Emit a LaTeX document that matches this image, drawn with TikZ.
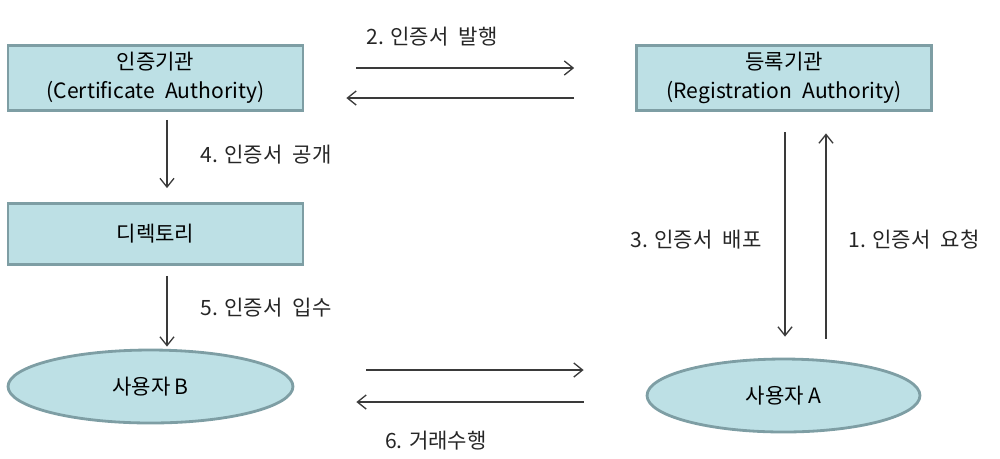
\documentclass[tikz,border=0pt]{standalone}
\usepackage{fontspec}
\setmainfont{Noto Sans CJK KR}[WordSpace=2.2]
\usetikzlibrary{positioning, arrows.meta, shapes.geometric}
\definecolor{boxfill}{HTML}{BDE0E5}
\definecolor{boxline}{HTML}{7E9EA4}
\definecolor{arrowgray}{HTML}{3A3A3A}

\begin{document}
\begin{tikzpicture}[
    x=0.02cm, y=-0.02cm,
    every node/.style={font=\fontsize{12}{14}\selectfont},
    agency/.style={draw=boxline, line width=1.6pt, fill=boxfill, minimum width=5.9cm, minimum height=1.3cm, align=center},
    user/.style={ellipse, draw=boxline, line width=1.6pt, fill=boxfill, minimum width=5.7cm, minimum height=1.46cm},
    msg/.style={inner sep=0pt, text=black!85},
    flow/.style={->, draw=arrowgray, line width=0.75pt},
    >={Straight Barb[length=5pt, width=8pt]}
]
\useasboundingbox (0,0) rectangle (1000,458);

% --- 기관 ---
\node[agency] (ca) at (155.5,78) {인증기관\\[2.5pt](Certificate Authority)};
\node[agency] (ra) at (784,78) {등록기관\\[2.5pt](Registration Authority)};
\node[agency, minimum height=1.22cm] (dir) at (155.5,234) {디렉토리};

% --- 사용자 ---
\node[user] (userb) at (150.5,386.5) {사용자\hspace{0.2em}B};
\node[user, minimum width=5.46cm] (usera) at (783.5,395.5) {사용자\hspace{0.2em}A};

% --- 라벨 ---
\node[msg] (issue) at (432,37) {2.\hspace{0.3em}인증서 발행};
\node[msg, anchor=west] (publish) at (200,155) {4.\hspace{0.3em}인증서 공개};
\node[msg, anchor=west] (obtain) at (200,308) {5.\hspace{0.3em}인증서 입수};
\node[msg, anchor=east] (deliver) at (762,240) {3.\hspace{0.3em}인증서 배포};
\node[msg, anchor=west] (request) at (848,240) {1.\hspace{0.3em}인증서 요청};
\node[msg] (trade) at (436,441) {6.\hspace{0.3em}거래수행};

% --- 연결선 ---
\coordinate (caout) at ([xshift=0.23cm]ca.south);
\coordinate (dirout) at ([xshift=0.23cm]dir.south);
\coordinate (raout) at ([xshift=0.02cm]ra.south);
\coordinate (rain) at ([xshift=0.84cm]ra.south);
\coordinate (bout) at ([yshift=0.33cm]userb.east);
\coordinate (ain) at ([yshift=-0.13cm]usera.west);

\draw[flow, shorten <=1.04cm, shorten >=1.22cm] ([yshift=0.2cm]ca.east) -- ([yshift=0.2cm]ra.west);
\draw[flow, shorten <=1.22cm, shorten >=0.84cm] ([yshift=-0.4cm]ra.west) -- ([yshift=-0.4cm]ca.east);
\draw[flow, shorten <=0.16cm, shorten >=0.28cm] (caout) -- (caout |- dir.north);
\draw[flow, shorten <=0.2cm, shorten >=0.04cm] (dirout) -- (dirout |- userb.north);
\draw[flow, shorten <=0.41cm, shorten >=0.42cm] (raout) -- (raout |- usera.north);
\draw[flow, shorten <=0.38cm, shorten >=0.43cm] (rain |- usera.north) -- (rain);
\draw[flow, shorten <=1.44cm, shorten >=1.24cm] (bout) -- (bout -| usera.west);
\draw[flow, shorten <=1.24cm, shorten >=1.24cm] (ain) -- (ain -| userb.east);

\end{tikzpicture}
\end{document}
